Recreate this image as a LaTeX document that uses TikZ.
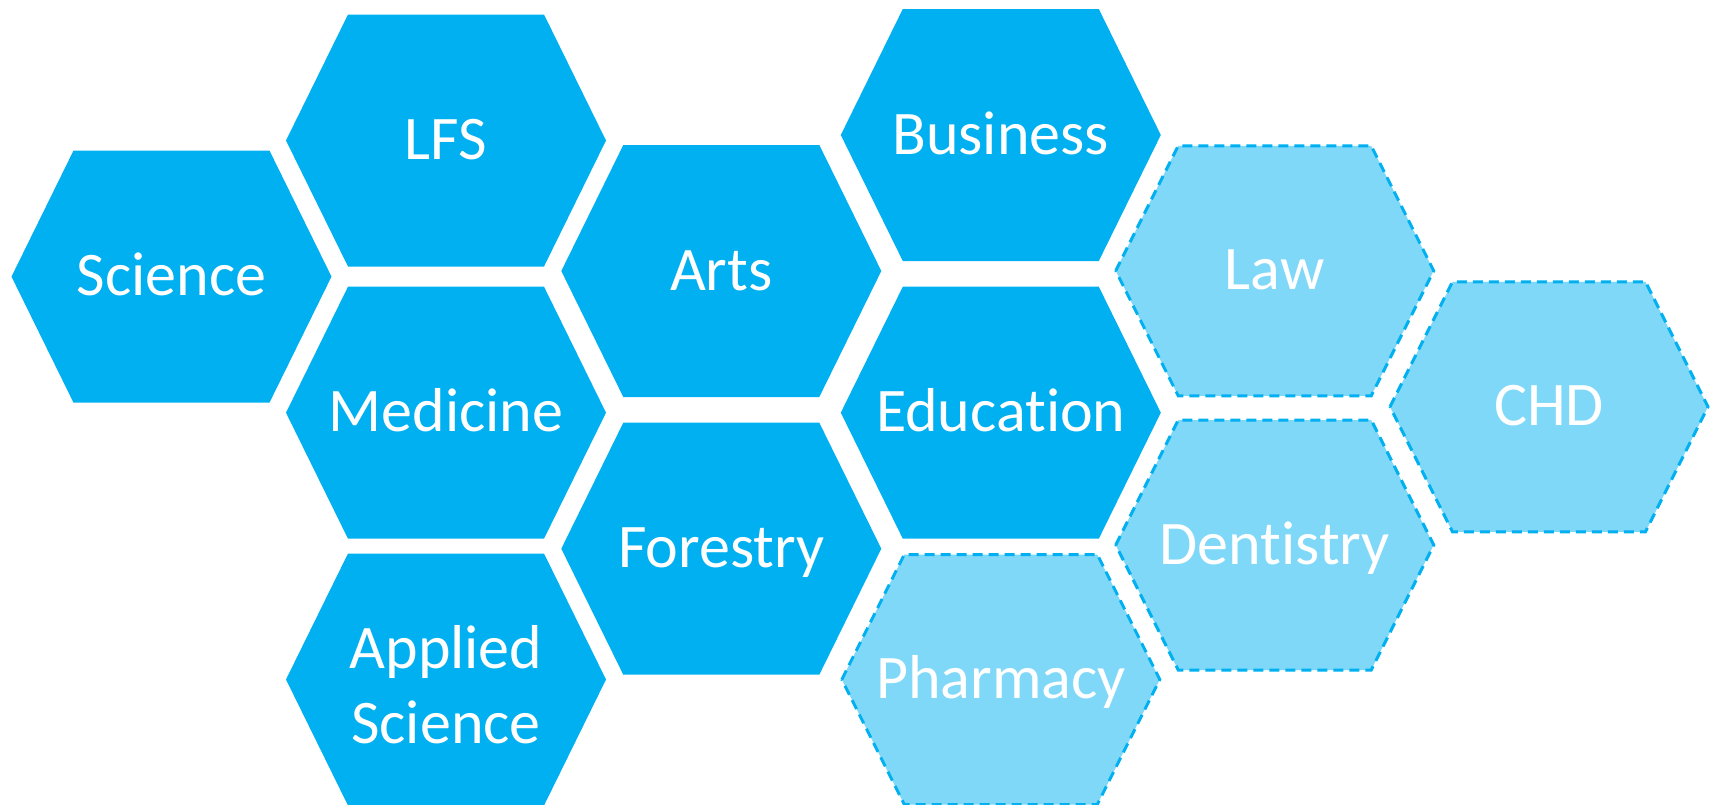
\documentclass[tikz,border=0pt]{standalone}
\usepackage{fontspec}
\setmainfont{Carlito}[Ligatures=NoCommon]

\definecolor{facultyblue}{HTML}{00B0F0}
\definecolor{facultypale}{HTML}{80D8F8}

\begin{document}
\begin{tikzpicture}[x=1pt, y=-1pt]

    % Set the canvas size
    \useasboundingbox (0,0) rectangle (1713,804);

    % Define styles
    \tikzset{
        faculty/.style={fill=facultyblue},
        planned/.style={fill=facultypale, draw=facultyblue, line width=3pt, dash pattern=on 10pt off 6pt},
        cellname/.style={text=white, font=\fontsize{62}{75.6}\selectfont, inner sep=0pt},
    }

    % Existing faculties (solid cells)
    \foreach \cx/\cy/\name/\txt in {171.5/276.6/science/Science, 446/140.5/lfs/LFS,
        446/412.7/medicine/Medicine, 721.3/271/arts/Arts, 721.3/548.7/forestry/Forestry,
        1000.8/135/business/Business, 1000.8/412.7/education/Education} {
        \fill[faculty] (\cx-160,\cy) -- (\cx-98,\cy-126) -- (\cx+98,\cy-126)
            -- (\cx+160,\cy) -- (\cx+98,\cy+126) -- (\cx-98,\cy+126) -- cycle;
        \node[cellname, anchor=base] (\name) at (\cx,\cy+19) {\txt};
    }

    % Applied Science has two lines
    \fill[faculty] (286,679.5) -- (348,553.5) -- (544,553.5)
        -- (606,679.5) -- (544,805.5) -- (348,805.5) -- cycle;
    \node[cellname, align=center] (appsci) at (446,684.5) {Applied\\Science};

    % Planned faculties (dashed cells)
    \foreach \cx/\cy/\name/\txt in {1000.8/679.5/pharmacy/Pharmacy, 1274.7/270.8/law/Law,
        1274.7/545/dentistry/Dentistry, 1549/406.8/chd/CHD} {
        \draw[planned] (\cx-159,\cy) -- (\cx-96.5,\cy-125) -- (\cx+96.5,\cy-125)
            -- (\cx+159,\cy) -- (\cx+96.5,\cy+125) -- (\cx-96.5,\cy+125) -- cycle;
        \node[cellname, anchor=base] (\name) at (\cx,\cy+19) {\txt};
    }

\end{tikzpicture}
\end{document}
